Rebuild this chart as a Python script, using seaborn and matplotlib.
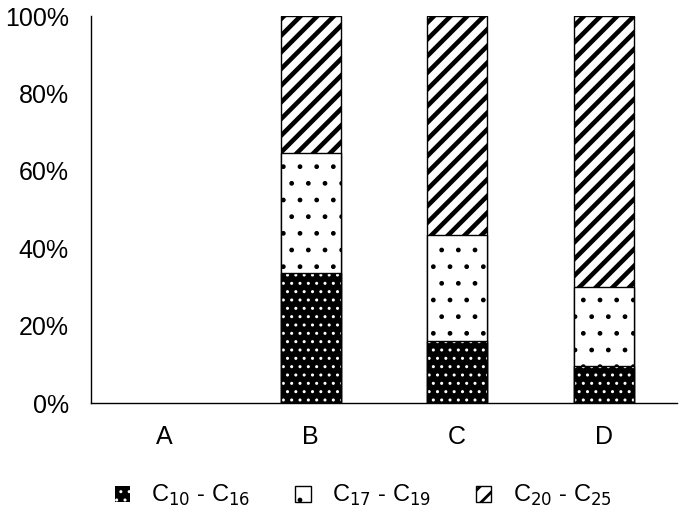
import numpy as np
import pandas as pd
import matplotlib
matplotlib.use("Agg")
import matplotlib.pyplot as plt
from matplotlib.patches import Patch
from matplotlib.ticker import PercentFormatter
import seaborn as sns

sns.set_style("white")
plt.rcParams['font.family'] = ['Liberation Sans', 'DejaVu Sans']
plt.rcParams['text.color'] = 'black'

samples = ['A', 'B', 'C', 'D']
c10_c16 = [np.nan, 33.5, 16.0, 9.5]
c17_c19 = [np.nan, 31.0, 27.5, 20.5]
c20_c25 = [np.nan, 35.5, 56.5, 70.0]
labels = [r'C$_{10}$ - C$_{16}$', r'C$_{17}$ - C$_{19}$', r'C$_{20}$ - C$_{25}$']

df = pd.DataFrame({'sample': samples, 'low': c10_c16, 'mid': c17_c19, 'high': c20_c25})
df['cum_mid'] = df['low'] + df['mid']
df['cum_high'] = df['cum_mid'] + df['high']

fig = plt.figure(figsize=(6.85, 5.19), dpi=100)
ax = fig.add_axes([0.133, 0.2235, 0.855, 0.7455])

w = 0.41
stripe_lw = 3.3
# stacked bars drawn from the top layer down
with plt.rc_context({'hatch.linewidth': stripe_lw}):
    sns.barplot(data=df, x='sample', y='cum_high', order=samples, color='white',
                edgecolor='black', linewidth=1, hatch='//', width=w, ax=ax)
with plt.rc_context({'hatch.linewidth': 1.0}):
    sns.barplot(data=df, x='sample', y='cum_mid', order=samples, color='white',
                edgecolor='black', linewidth=1, hatch='.', width=w, ax=ax)
    sns.barplot(data=df, x='sample', y='low', order=samples, color='black',
                edgecolor='white', linewidth=0, hatch='..', width=w, ax=ax)
    sns.barplot(data=df, x='sample', y='low', order=samples, fill=False,
                edgecolor='black', linewidth=1, width=w, ax=ax)

ax.set_ylim(0, 100)
ax.set_xlim(-0.5, 3.5)
ax.set_yticks([0, 20, 40, 60, 80, 100])
ax.yaxis.set_major_formatter(PercentFormatter(decimals=0))
ax.set_xlabel('')
ax.set_ylabel('')
ax.tick_params(axis='both', length=0, labelsize=18, colors='black')
ax.tick_params(axis='y', pad=16)
ax.tick_params(axis='x', pad=16)
for side in ['top', 'right']:
    ax.spines[side].set_visible(False)
for side in ['left', 'bottom']:
    ax.spines[side].set_color('black')
    ax.spines[side].set_linewidth(1)

handles = [
    Patch(facecolor='black', edgecolor='white', hatch='..', linewidth=0),
    Patch(facecolor='white', edgecolor='black', hatch='.', linewidth=1),
    Patch(facecolor='white', edgecolor='black', hatch='//', linewidth=1),
]
leg = fig.legend(handles, labels, loc='lower center',
                 bbox_to_anchor=(0.53, -0.02), ncol=3, frameon=False,
                 fontsize=17, labelcolor='black',
                 handlelength=0.65, handleheight=0.65, columnspacing=1.9,
                 handletextpad=0.9)
stripe_patch = leg.get_patches()[2]
if hasattr(stripe_patch, 'set_hatch_linewidth'):
    stripe_patch.set_hatch_linewidth(2.0)
else:
    stripe_patch._hatch_linewidth = 2.0

fig.savefig('out.png', dpi=100)
